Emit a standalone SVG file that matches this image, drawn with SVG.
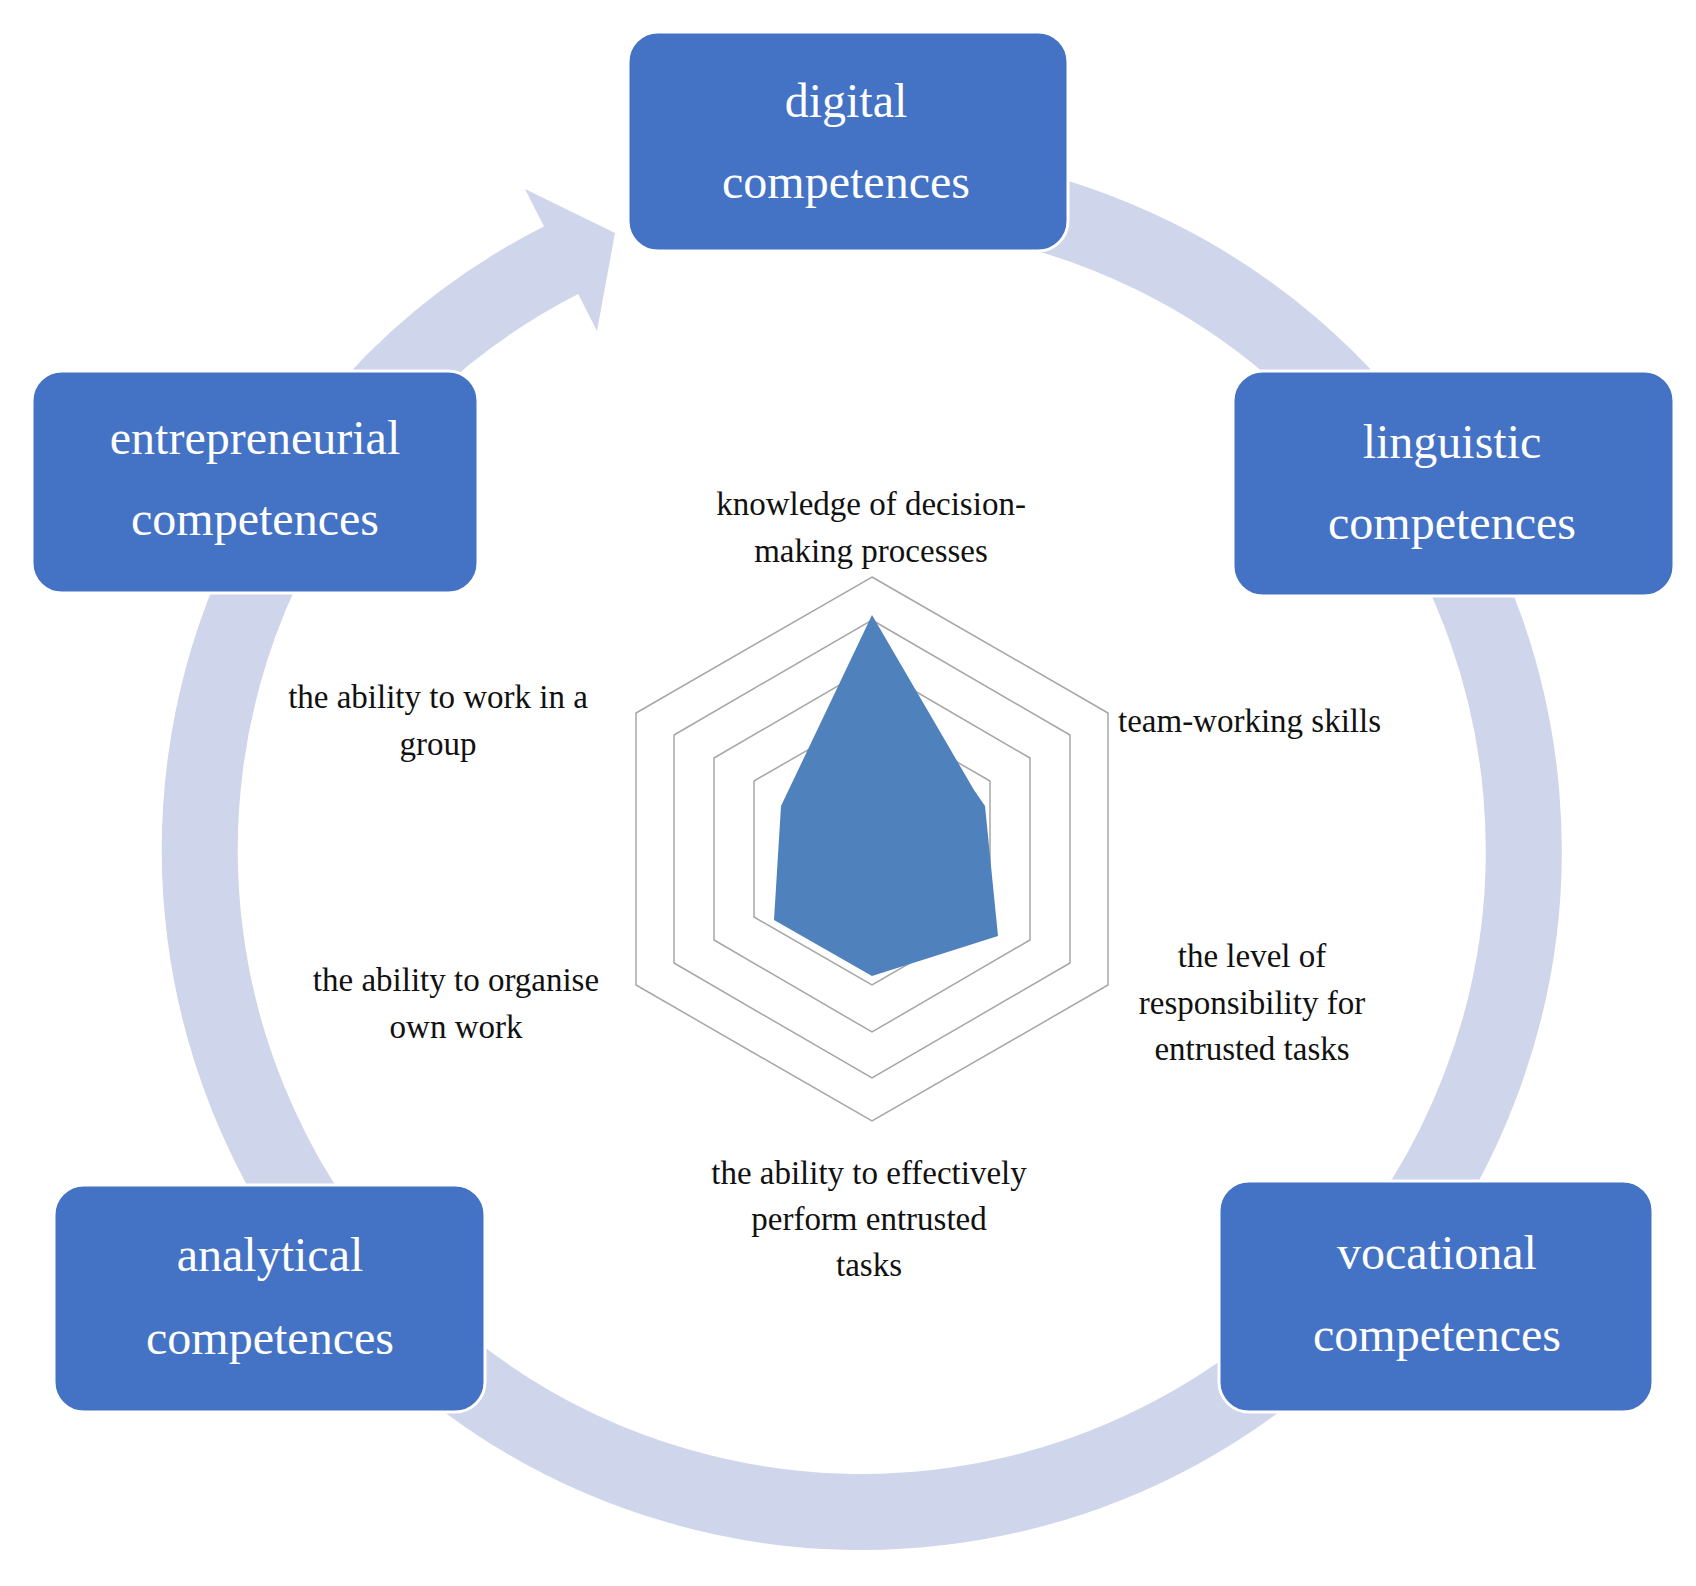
<svg xmlns="http://www.w3.org/2000/svg" width="1696" height="1586" viewBox="0 0 1696 1586">
<style>
.box{fill:#4472c4;stroke:#fff;stroke-width:3}
.bt{font-family:"Liberation Serif",serif;font-size:48px;fill:#fff;text-anchor:middle}
.lt{font-family:"Liberation Serif",serif;font-size:33px;fill:#111;text-anchor:middle}
.hex{fill:none;stroke:#a6a6a6;stroke-width:1.5}
</style>
<rect width="1696" height="1586" fill="#fff"/>
<g id="connectors">
<path d="M 862 188 A 662 662 0 1 1 561.5 260" fill="none" stroke="#cfd5ea" stroke-width="76"/>
<polygon points="615,233 525,189 597,331" fill="#cfd5ea"/>
</g>
<g id="radar">
<polygon class="hex" points="872,577 1108,713 1108,985 872,1121 636,985 636,713"/>
<polygon class="hex" points="872,620 1070,735 1070,963 872,1078 674,963 674,735"/>
<polygon class="hex" points="872,666 1030,758 1030,940 872,1032 714,940 714,758"/>
<polygon class="hex" points="872,713 990,781 990,917 872,985 754,917 754,781"/>
<polygon points="872,615 974,790 985,806 998,936 872,976 774,920 781,806" fill="#4f81bd"/>
<text class="lt" x="871" y="515">knowledge of decision-</text>
<text class="lt" x="871" y="562">making processes</text>
<text class="lt" x="1118" y="732" text-anchor="start" style="text-anchor:start">team-working skills</text>
<text class="lt" x="438" y="708">the ability to work in a</text>
<text class="lt" x="438" y="755">group</text>
<text class="lt" x="456" y="991">the ability to organise</text>
<text class="lt" x="456" y="1038">own work</text>
<text class="lt" x="1252" y="967">the level of</text>
<text class="lt" x="1252" y="1014">responsibility for</text>
<text class="lt" x="1252" y="1060">entrusted tasks</text>
<text class="lt" x="869" y="1184">the ability to effectively</text>
<text class="lt" x="869" y="1230">perform entrusted</text>
<text class="lt" x="869" y="1276">tasks</text>
</g>
<g id="digital"><rect class="box" x="628" y="32" width="440" height="219" rx="30"/>
<text class="bt" x="846" y="117">digital</text><text class="bt" x="846" y="198">competences</text></g>
<g id="entrepreneurial"><rect class="box" x="32" y="371" width="446" height="222" rx="30"/>
<text class="bt" x="255" y="454">entrepreneurial</text><text class="bt" x="255" y="535">competences</text></g>
<g id="linguistic"><rect class="box" x="1233" y="371" width="441" height="225" rx="30"/>
<text class="bt" x="1452" y="458">linguistic</text><text class="bt" x="1452" y="539">competences</text></g>
<g id="analytical"><rect class="box" x="54" y="1185" width="431" height="227" rx="30"/>
<text class="bt" x="270" y="1271">analytical</text><text class="bt" x="270" y="1354">competences</text></g>
<g id="vocational"><rect class="box" x="1219" y="1181" width="434" height="231" rx="30"/>
<text class="bt" x="1437" y="1269">vocational</text><text class="bt" x="1437" y="1351">competences</text></g>
</svg>
